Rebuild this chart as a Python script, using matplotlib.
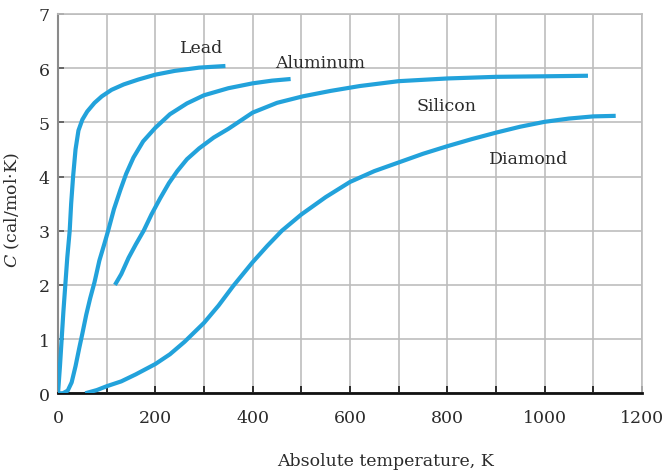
import matplotlib
matplotlib.use('Agg')
import matplotlib.pyplot as plt
from matplotlib.ticker import MultipleLocator

# heat capacity curves (T in K, C in cal/mol-K)
leadT = [0, 4, 7.5, 11, 15, 19, 24, 27, 31, 36, 42, 50, 60, 75, 90, 110, 135, 165, 200, 240, 290, 344]
leadC = [0, 0.5, 1.0, 1.5, 2.0, 2.5, 3.0, 3.5, 4.0, 4.5, 4.85, 5.05, 5.2, 5.36, 5.48, 5.6, 5.7, 5.79, 5.88, 5.95, 6.01, 6.04]

aluT = [0, 10, 20, 28, 36, 44, 50, 58, 66, 75, 85, 95, 103, 115, 128, 140, 155, 175, 200, 230, 265, 300, 350, 400, 440, 478]
aluC = [0, 0.0, 0.05, 0.2, 0.5, 0.85, 1.1, 1.45, 1.75, 2.05, 2.45, 2.75, 3.0, 3.4, 3.75, 4.05, 4.35, 4.65, 4.9, 5.15, 5.35, 5.5, 5.63, 5.72, 5.77, 5.8]

siT = [117, 130, 145, 160, 176, 192, 210, 228, 245, 265, 290, 320, 350, 400, 450, 503, 560, 620, 700, 800, 900, 1000, 1089]
siC = [2.0, 2.2, 2.5, 2.75, 3.0, 3.3, 3.6, 3.88, 4.1, 4.32, 4.52, 4.72, 4.88, 5.18, 5.36, 5.48, 5.58, 5.67, 5.76, 5.81, 5.84, 5.85, 5.86]

diaT = [56, 80, 100, 130, 160, 200, 230, 260, 300, 330, 360, 400, 430, 460, 500, 550, 600, 650, 700, 750, 800, 850, 900, 950, 1000, 1050, 1100, 1146]
diaC = [0, 0.06, 0.13, 0.22, 0.35, 0.54, 0.72, 0.95, 1.3, 1.62, 1.98, 2.42, 2.72, 3.0, 3.3, 3.62, 3.9, 4.1, 4.26, 4.42, 4.56, 4.69, 4.81, 4.92, 5.01, 5.07, 5.11, 5.12]

names = ['Lead', 'Aluminum', 'Silicon', 'Diamond']
labelPos = [(296, 6.38), (538, 6.11), (799, 5.32), (968, 4.33)]

plt.rcParams['font.family'] = ['DejaVu Serif']
plt.rcParams['mathtext.fontset'] = 'dejavuserif'

fig = plt.figure(figsize=(6.63, 4.77), dpi=100)
ax = fig.add_axes([0.0875, 0.1734, 0.8808, 0.7952])

lineColor = '#22a2db'
for T, C in [(leadT, leadC), (aluT, aluC), (siT, siC), (diaT, diaC)]:
    ax.plot(T, C, color=lineColor, lw=3.0, solid_capstyle='butt', solid_joinstyle='round', zorder=3)

textColor = '#2b2b2b'
for name, (tx, ty) in zip(names, labelPos):
    ax.text(tx, ty, name, ha='center', va='center', fontsize=12.5, color=textColor, zorder=4)

ax.set_xlim(0, 1200)
ax.set_ylim(0, 7)
ax.xaxis.set_major_locator(MultipleLocator(200))
ax.xaxis.set_minor_locator(MultipleLocator(100))
ax.yaxis.set_major_locator(MultipleLocator(1))

gridColor = '#bdbdbd'
ax.grid(True, which='both', axis='x', color=gridColor, lw=1.2)
ax.grid(True, which='major', axis='y', color=gridColor, lw=1.2)
ax.set_axisbelow(True)

for side in ['top', 'right']:
    ax.spines[side].set_color(gridColor)
    ax.spines[side].set_linewidth(1.2)
ax.spines['left'].set_color('#8a8a8a')
ax.spines['left'].set_linewidth(1.5)
ax.spines['bottom'].set_color('#111111')
ax.spines['bottom'].set_linewidth(2.0)

ax.tick_params(axis='x', which='both', direction='in', length=5, width=1.2, color='#111111',
               pad=11, labelsize=12.5, labelcolor=textColor)
ax.tick_params(axis='y', direction='in', length=4, width=1.2, color='#555555',
               pad=6, labelsize=12.5, labelcolor=textColor)

ax.set_xlabel('Absolute temperature, K', fontsize=12.5, color=textColor)
ax.set_ylabel('$C$ (cal/mol·K)', fontsize=12.5, color=textColor)
ax.xaxis.set_label_coords(0.5616, -0.155)
ax.yaxis.set_label_coords(-0.062, 0.486)

fig.savefig('out.png', dpi=100)
plt.close(fig)
